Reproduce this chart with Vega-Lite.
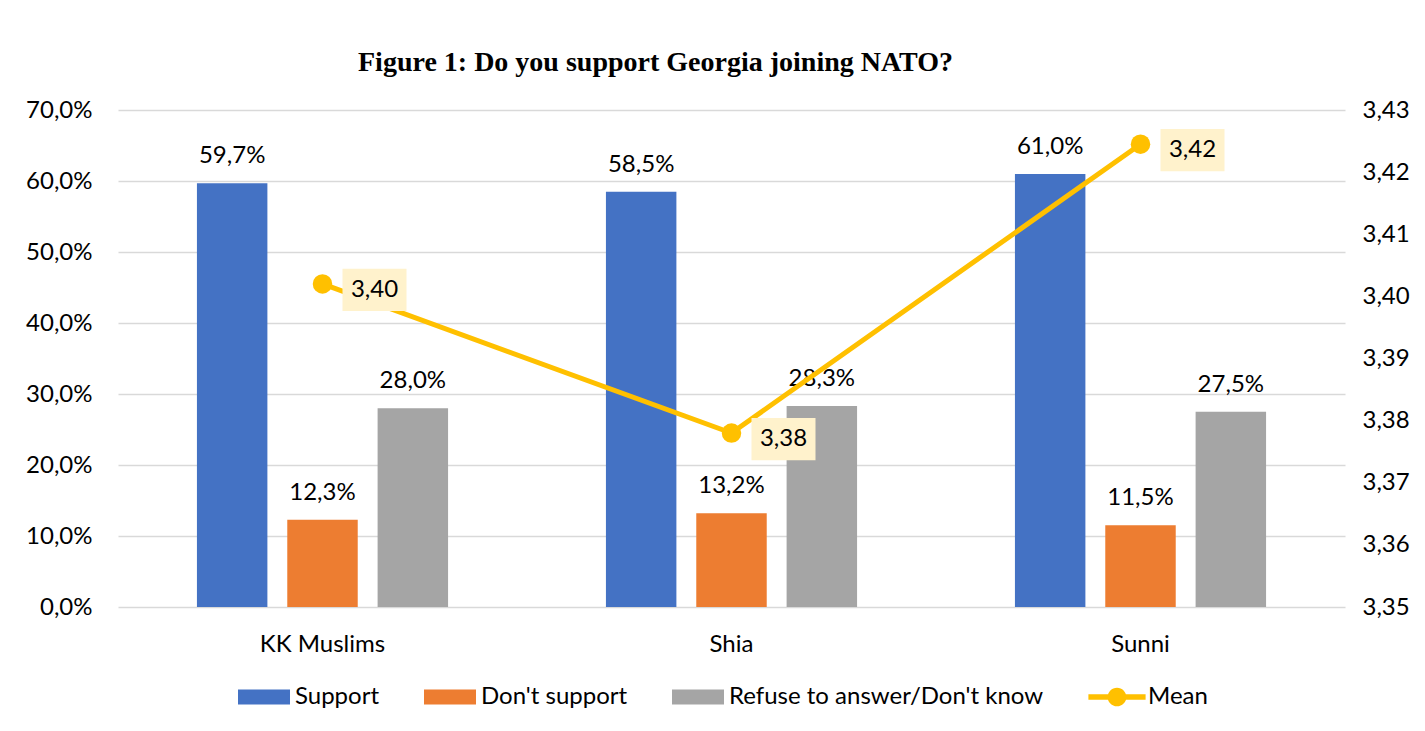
{
  "$schema": "https://vega.github.io/schema/vega-lite/v6.json",
  "width": 1227,
  "height": 497,
  "autosize": {"type": "none"},
  "padding": {"left": 118, "top": 110, "right": 80, "bottom": 124},
  "background": "#ffffff",
  "config": {
    "locale": {"number": {"decimal": ",", "thousands": ".", "grouping": [3], "currency": ["", "€"]}},
    "view": {"stroke": null},
    "font": "Lato",
    "text": {"font": "Lato", "fontSize": 24, "color": "#000000"}
  },
  "title": {
    "text": "Figure 1: Do you support Georgia joining NATO?",
    "anchor": "start",
    "frame": "group",
    "dx": 240,
    "offset": 21,
    "font": "Liberation Serif",
    "fontSize": 28,
    "fontWeight": "bold",
    "color": "#000000"
  },
  "datasets": {
    "bars": [
      {"group": "KK Muslims", "series": "Support", "value": 0.597},
      {"group": "KK Muslims", "series": "Don't support", "value": 0.123},
      {"group": "KK Muslims", "series": "Refuse to answer/Don't know", "value": 0.280},
      {"group": "Shia", "series": "Support", "value": 0.585},
      {"group": "Shia", "series": "Don't support", "value": 0.132},
      {"group": "Shia", "series": "Refuse to answer/Don't know", "value": 0.283},
      {"group": "Sunni", "series": "Support", "value": 0.610},
      {"group": "Sunni", "series": "Don't support", "value": 0.115},
      {"group": "Sunni", "series": "Refuse to answer/Don't know", "value": 0.275}
    ],
    "mean": [
      {"group": "KK Muslims", "mean": 3.402},
      {"group": "Shia", "mean": 3.378},
      {"group": "Sunni", "mean": 3.4245}
    ]
  },
  "encoding": {
    "x": {
      "field": "group",
      "type": "nominal",
      "sort": ["KK Muslims", "Shia", "Sunni"],
      "scale": {"paddingInner": 0.386, "paddingOuter": 0.193},
      "axis": {
        "title": null,
        "domain": false,
        "ticks": false,
        "labelAngle": 0,
        "labelFont": "Lato",
        "labelFontSize": 24,
        "labelColor": "#000000",
        "labelPadding": 25
      }
    }
  },
  "layer": [
    {
      "data": {"name": "bars"},
      "encoding": {
        "y": {
          "field": "value",
          "type": "quantitative",
          "scale": {"domain": [0, 0.7], "nice": false},
          "axis": {
            "title": null,
            "format": ".1%",
            "values": [0, 0.1, 0.2, 0.3, 0.4, 0.5, 0.6, 0.7],
            "domain": false,
            "ticks": false,
            "grid": true,
            "gridColor": "#D9D9D9",
            "gridWidth": 1.5,
            "labelFont": "Lato",
            "labelFontSize": 24,
            "labelColor": "#000000",
            "labelPadding": 26
          }
        },
        "xOffset": {
          "field": "series",
          "type": "nominal",
          "sort": ["Support", "Don't support", "Refuse to answer/Don't know"],
          "scale": {"paddingInner": 0.22, "paddingOuter": 0}
        }
      },
      "layer": [
        {
          "mark": {"type": "bar"},
          "encoding": {
            "color": {
              "field": "series",
              "type": "nominal",
              "scale": {
                "domain": ["Support", "Don't support", "Refuse to answer/Don't know", "Mean"],
                "range": ["#4472C4", "#ED7D31", "#A5A5A5", "#FFC000"]
              },
              "legend": {
                "title": null,
                "orient": "none",
                "legendX": 120,
                "legendY": 561,
                "direction": "horizontal",
                "labelFont": "Lato",
                "labelFontSize": 24,
                "labelColor": "#000000",
                "labelLimit": 0,
                "labelOffset": 5,
                "columnPadding": 44,
                "symbolSize": 2704,
                "symbolStrokeWidth": 0,
                "encode": {
                  "symbols": {
                    "update": {
                      "shape": {"signal": "datum.value === 'Mean' ? 'M-1.1,-0.11L1.1,-0.11L1.1,0.11L-1.1,0.11Z M0.36,0A0.36,0.36 0 1 1 -0.36,0A0.36,0.36 0 1 1 0.36,0Z' : 'M-1,-0.29L1,-0.29L1,0.29L-1,0.29Z'"},
                      "fill": {"scale": "color", "field": "value"},
                      "fillOpacity": {"value": 1},
                      "strokeWidth": {"value": 0}
                    }
                  }
                }
              }
            }
          }
        },
        {
          "mark": {"type": "text", "baseline": "alphabetic", "align": "center", "dy": -20, "font": "Lato", "fontSize": 24, "color": "#000000"},
          "encoding": {
            "text": {"field": "value", "type": "quantitative", "format": ".1%"}
          }
        }
      ]
    },
    {
      "data": {"name": "mean"},
      "encoding": {
        "y": {
          "field": "mean",
          "type": "quantitative",
          "scale": {"domain": [3.35, 3.43], "nice": false, "zero": false},
          "axis": {
            "orient": "right",
            "title": null,
            "format": ".2f",
            "values": [3.35, 3.36, 3.37, 3.38, 3.39, 3.40, 3.41, 3.42, 3.43],
            "domain": false,
            "ticks": false,
            "grid": false,
            "labelFont": "Lato",
            "labelFontSize": 24,
            "labelColor": "#000000",
            "labelPadding": 17
          }
        }
      },
      "layer": [
        {
          "mark": {"type": "line", "strokeWidth": 5},
          "encoding": {"color": {"datum": "Mean"}}
        },
        {
          "mark": {"type": "point", "filled": true, "size": 380, "opacity": 1},
          "encoding": {"color": {"datum": "Mean"}}
        },
        {
          "mark": {"type": "point", "filled": true, "shape": "M-1,-0.66L1,-0.66L1,0.66L-1,0.66Z", "size": 4096, "color": "#FFF2CC", "opacity": 1, "xOffset": 52, "yOffset": 6}
        },
        {
          "mark": {"type": "text", "align": "center", "baseline": "middle", "dx": 52, "dy": 6, "font": "Lato", "fontSize": 24, "color": "#000000"},
          "encoding": {"text": {"field": "mean", "type": "quantitative", "format": ".2f"}}
        }
      ]
    }
  ],
  "resolve": {"scale": {"y": "independent"}}
}
